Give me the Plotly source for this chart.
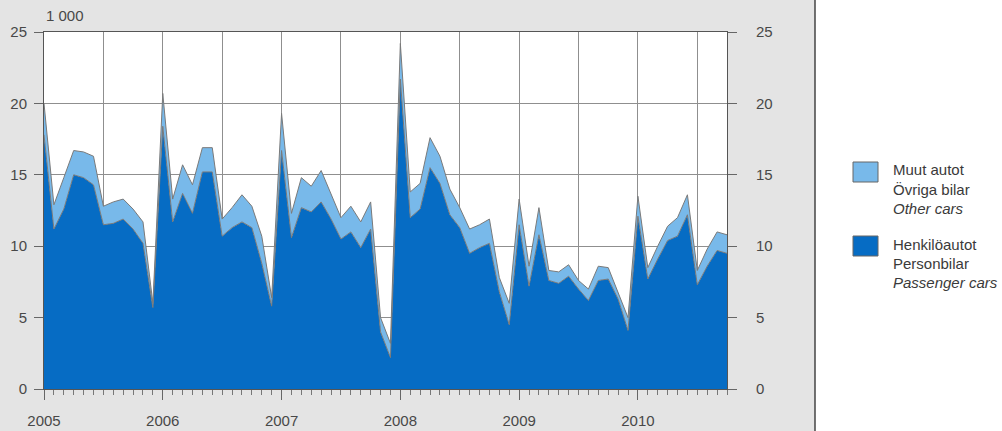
import pandas as pd
import plotly.graph_objects as go

# Monthly registrations, thousands, Jan 2005 - Oct 2010
months = pd.date_range("2005-01-01", periods=70, freq="MS")

passenger_cars = [
    17.8, 11.2, 12.6, 15.0, 14.8, 14.3, 11.5, 11.6, 11.9, 11.2, 10.2, 5.7,
    18.4, 11.7, 13.7, 12.3, 15.2, 15.2, 10.7, 11.3, 11.7, 11.3, 8.8, 5.8,
    16.7, 10.6, 12.7, 12.4, 13.1, 11.9, 10.5, 11.0, 9.9, 11.2, 4.0, 2.2,
    21.7, 12.0, 12.6, 15.5, 14.4, 12.2, 11.3, 9.5, 9.9, 10.2, 6.8, 4.5,
    11.5, 7.2, 10.8, 7.6, 7.4, 7.9, 7.0, 6.2, 7.6, 7.7, 6.3, 4.1,
    12.1, 7.7, 9.1, 10.4, 10.7, 12.2, 7.3, 8.6, 9.7, 9.5,
]
total_cars = [
    20.0, 12.9, 14.8, 16.7, 16.6, 16.3, 12.8, 13.1, 13.3, 12.6, 11.7, 6.0,
    20.7, 13.3, 15.7, 14.3, 16.9, 16.9, 11.9, 12.7, 13.6, 12.8, 10.7, 6.4,
    19.3, 12.3, 14.8, 14.2, 15.3, 13.7, 12.0, 12.8, 11.7, 13.1, 5.0, 3.2,
    24.2, 13.8, 14.4, 17.6, 16.3, 14.0, 12.7, 11.2, 11.5, 11.9, 7.8, 6.0,
    13.3, 8.6, 12.7, 8.3, 8.2, 8.7, 7.6, 7.0, 8.6, 8.5, 6.7, 5.0,
    13.5, 8.5, 10.0, 11.4, 12.0, 13.6, 8.3, 9.8, 11.0, 10.8,
]
other_cars = [round(t - p, 2) for t, p in zip(total_cars, passenger_cars)]

legend_other = ["Muut autot", "Övriga bilar", "<i>Other cars</i>"]
legend_passenger = ["Henkilöautot", "Personbilar", "<i>Passenger cars</i>"]

DARK_BLUE = "#066cc4"
LIGHT_BLUE = "#78b9ea"
EDGE = "#7a7a7a"
TEXT = "#484848"
BG = "#e4e4e4"
FONT = "Liberation Sans, Arial, sans-serif"

W, H = 1002, 431
L, R, T, B = 44, 727, 32, 389


def px_x(p):
    return (p - L) / (R - L)


def px_y(p):
    return (B - p) / (B - T)


x = list(range(len(months)))

fig = go.Figure()
fig.add_trace(go.Scatter(
    x=x, y=passenger_cars, stackgroup="cars", mode="lines",
    line=dict(color=EDGE, width=1), fillcolor=DARK_BLUE,
    hoverinfo="skip", showlegend=False,
))
fig.add_trace(go.Scatter(
    x=x, y=other_cars, stackgroup="cars", mode="lines",
    line=dict(color=EDGE, width=1), fillcolor=LIGHT_BLUE,
    hoverinfo="skip", showlegend=False,
))
# right-hand value axis carries the totals (no visible line)
fig.add_trace(go.Scatter(
    x=x, y=total_cars, yaxis="y2", mode="lines",
    line=dict(color="rgba(0,0,0,0)", width=0),
    hoverinfo="skip", showlegend=False,
))

half_years = [i for i, m in enumerate(months) if m.month in (1, 7)]
half_labels = [str(months[i].year) if months[i].month == 1 else "" for i in half_years]

fig.update_layout(
    width=W, height=H,
    margin=dict(l=L, r=W - R, t=T, b=H - B, autoexpand=False),
    paper_bgcolor=BG, plot_bgcolor="white",
    font=dict(family=FONT, size=15, color=TEXT),
    xaxis=dict(
        range=[0, len(months) - 1], automargin=False,
        tickmode="array", tickvals=half_years, ticktext=half_labels,
        ticks="outside", ticklen=10, tickcolor="#666", tickwidth=1,
        showgrid=True, gridcolor="#8f8f8f", gridwidth=1,
        showline=True, linecolor="#555", linewidth=1, mirror=True,
        zeroline=False, ticklabelstandoff=8,
        minor=dict(tickmode="array", tickvals=x, ticks="outside",
                   ticklen=5, tickcolor="#777", showgrid=False),
    ),
    yaxis=dict(
        range=[0, 25], dtick=5, tick0=0, automargin=False,
        ticks="outside", ticklen=9, tickcolor="#666",
        showgrid=True, gridcolor="#8f8f8f", gridwidth=1,
        showline=True, linecolor="#555", linewidth=1, mirror=True,
        zeroline=False, ticklabelstandoff=4,
    ),
    yaxis2=dict(
        range=[0, 25], dtick=5, tick0=0, overlaying="y", side="right",
        anchor="x", automargin=False,
        ticks="outside", ticklen=9, tickcolor="#666",
        showgrid=False, showline=False, zeroline=False,
        ticklabelstandoff=16,
    ),
)

shapes = [
    # white legend panel and its divider
    dict(type="rect", xref="paper", yref="paper",
         x0=px_x(815), x1=px_x(W + 20), y0=px_y(H + 20), y1=px_y(-20),
         fillcolor="white", line=dict(width=0), layer="below"),
    dict(type="line", xref="paper", yref="paper",
         x0=px_x(815), x1=px_x(815), y0=px_y(H + 20), y1=px_y(-20),
         line=dict(color="#444", width=1.5)),
    # legend swatches
    dict(type="rect", xref="paper", yref="paper",
         x0=px_x(853), x1=px_x(878), y0=px_y(182), y1=px_y(162),
         fillcolor=LIGHT_BLUE, line=dict(color="#666", width=1)),
    dict(type="rect", xref="paper", yref="paper",
         x0=px_x(853), x1=px_x(878), y0=px_y(256), y1=px_y(236),
         fillcolor=DARK_BLUE, line=dict(color="#666", width=1)),
]

annotations = [
    dict(text="1 000", xref="paper", yref="paper", x=px_x(44), y=px_y(16),
         xanchor="left", yanchor="middle", showarrow=False,
         font=dict(size=15, color=TEXT)),
]
for lines, y0 in ((legend_other, 170), (legend_passenger, 244)):
    for k, line in enumerate(lines):
        annotations.append(dict(
            text=line, xref="paper", yref="paper",
            x=px_x(891), y=px_y(y0 + 19 * k),
            xanchor="left", yanchor="middle", showarrow=False,
            font=dict(size=15, color="#3a3a3a"),
        ))

fig.update_layout(shapes=shapes, annotations=annotations)
fig.write_html("out.html")
